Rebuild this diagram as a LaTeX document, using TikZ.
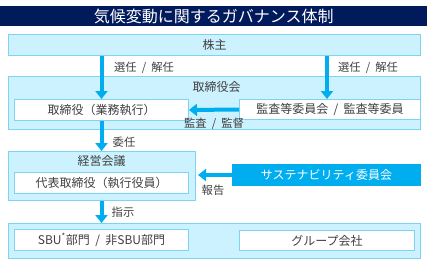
\documentclass[tikz,border=0pt]{standalone}
\usepackage{fontspec}
\setmainfont{Noto Sans CJK JP}
\usetikzlibrary{arrows.meta, positioning}
\definecolor{colorTitulo}{HTML}{001A5C}
\definecolor{colorFlecha}{HTML}{00AEEF}
\definecolor{colorBorde}{HTML}{7DD3F2}
\definecolor{colorFondo}{HTML}{CCF2FF}
\definecolor{colorTexto}{HTML}{404040}
\newcommand{\sep}{\hspace{.45em}/\hspace{.45em}}

\begin{document}
\begin{tikzpicture}[
        x=1pt, y=-1pt,
        grp/.style={draw=colorBorde, fill=colorFondo, line width=1pt, inner sep=0pt,
            anchor=north west, text=colorTexto, font=\fontsize{12}{14}\selectfont},
        s/.style={draw=colorBorde, fill=white, line width=1pt, inner sep=0pt,
            anchor=north west, text=colorTexto, font=\fontsize{12}{14}\selectfont},
        lbl/.style={text=colorTexto, inner sep=0pt, font=\fontsize{11.3}{13}\selectfont},
        rel/.style={-{Triangle[width=12pt, length=8pt]}, line width=4pt, colorFlecha}
    ]
        \useasboundingbox (0,0) rectangle (427,259);
        % title bar
        \node[fill=colorTitulo, text=white, inner sep=0pt, anchor=north west,
            minimum width=427pt, minimum height=20pt, font=\fontsize{16}{18}\selectfont] (title) at (0,6) {気候変動に関するガバナンス体制};
        % groups
        \node[grp, minimum width=412pt, minimum height=21pt] (kabunushi) at (8,34) {株主};
        \node[grp, minimum width=412pt, minimum height=53pt] (torikai) at (8,76) {};
        \node[grp, draw=none, fill=none] (torikaiT) at (192,81) {取締役会};
        \node[s, minimum width=174pt, minimum height=21pt] (torishimari) at (14,99) {取締役（業務執行）};
        \node[s, minimum width=181pt, minimum height=20pt] (kansa) at (239,99) {監査等委員会\sep 監査等委員};
        \node[grp, minimum width=187pt, minimum height=49pt] (keiei) at (8,151) {};
        \node[grp, draw=none, fill=none] (keieiT) at (77,155) {経営会議};
        \node[s, minimum width=174pt, minimum height=21pt] (daihyo) at (14,172) {代表取締役（執行役員）};
        \node[grp, fill=colorFlecha, draw=colorFlecha, text=white, minimum width=188pt, minimum height=21pt] (susta) at (232,164) {サステナビリティ委員会};
        \node[grp, minimum width=412pt, minimum height=35pt] (bumon) at (8,223) {};
        \node[s, minimum width=174pt, minimum height=21pt] (sbu) at (14,229) {SBU\textsuperscript{*}部門\sep 非SBU部門};
        \node[s, minimum width=175pt, minimum height=20pt] (group) at (239,230) {グループ会社};
        % connectors
        \draw[rel] (kabunushi.south -| torishimari.north) -- (torishimari.north);
        \draw[rel] ([xshift=-3pt]kabunushi.south -| kansa.north) -- ([xshift=-3pt]kansa.north);
        \draw[rel] (kansa.west) -- (torishimari.east);
        \draw[rel] (torishimari.south) -- (keiei.north -| torishimari.south);
        \draw[rel] (susta.west) -- ([xshift=2pt]keiei.east |- susta.west);
        \draw[rel] (keiei.south -| torishimari.south) -- (bumon.north -| torishimari.south);
        % labels
        \node[lbl] (l1) at (144,68) {選任\sep 解任};
        \node[lbl] (l2) at (368,68) {選任\sep 解任};
        \node[lbl] (l3) at (214,124) {監査\sep 監督};
        \node[lbl] (l4) at (124,142) {委任};
        \node[lbl] (l5) at (213,190) {報告};
        \node[lbl] (l6) at (123,212) {指示};
    \end{tikzpicture}
\end{document}
